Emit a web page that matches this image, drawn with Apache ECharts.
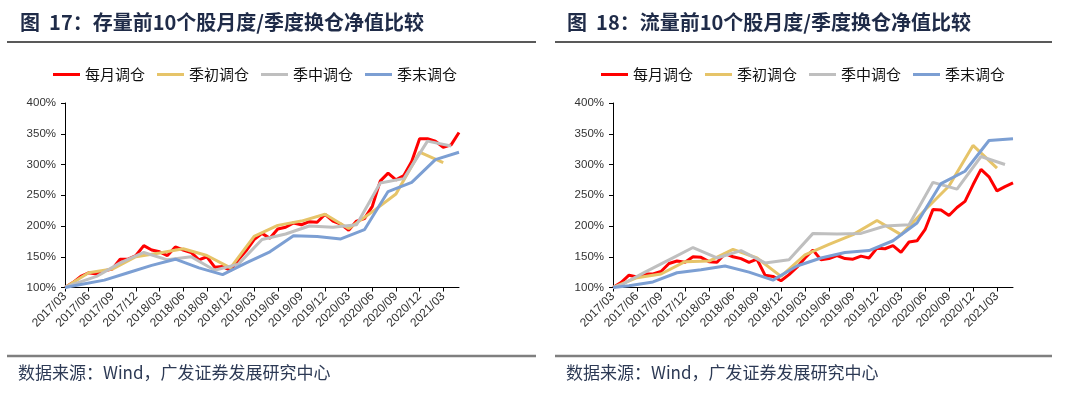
<!DOCTYPE html>
<html><head><meta charset="utf-8">
<script src="https://cdn.jsdelivr.net/npm/echarts@6/dist/echarts.min.js"></script>
<style>html,body{margin:0;padding:0;background:#fff}#c{width:1080px;height:395px}</style>
</head><body><div id="c"></div>
<script>
const months = ['2017/03','2017/04','2017/05','2017/06','2017/07','2017/08','2017/09','2017/10','2017/11','2017/12',
'2018/01','2018/02','2018/03','2018/04','2018/05','2018/06','2018/07','2018/08','2018/09','2018/10','2018/11','2018/12',
'2019/01','2019/02','2019/03','2019/04','2019/05','2019/06','2019/07','2019/08','2019/09','2019/10','2019/11','2019/12',
'2020/01','2020/02','2020/03','2020/04','2020/05','2020/06','2020/07','2020/08','2020/09','2020/10','2020/11','2020/12',
'2021/01','2021/02','2021/03','2021/04','2021/05'];
const names = ['每月调仓','季初调仓','季中调仓','季末调仓'];
const yTicks = [100,150,200,250,300,350,400];
const _ = null;
// 图17 存量
const stockMonthly = [100,108,118,124,122,127,130,146,146,152,168,161,158,152,166,161,157,145,150,133,134,128,145,160,178,188,180,195,198,205,202,207,206,219,208,203,193,208,212,232,273,286,275,282,305,342,342,338,328,332,352];
const stockQStart = [100,_,_,124,_,_,130,_,_,150,_,_,156,_,_,163,_,_,152,_,_,132,_,_,183,_,_,201,_,_,208,_,_,219,_,_,196,_,_,223,_,_,252,_,_,320,_,_,303,_,_];
const stockQMid = [100,105,_,_,118,_,_,140,_,_,157,_,_,145,_,_,150,_,_,128,_,_,138,_,_,178,_,_,187,_,_,200,_,_,198,_,_,202,_,_,270,_,_,277,_,_,338,_,_,330,_];
const stockQEnd = [100,_,105,_,_,112,_,_,124,_,_,136,_,_,146,_,_,132,_,_,121,_,_,140,_,_,158,_,_,184,_,_,183,_,_,179,_,_,194,_,_,256,_,_,271,_,_,308,_,_,320];
// 图18 流量
const flowMonthly = [100,108,120,117,122,122,126,139,143,141,150,149,142,141,155,150,147,141,146,120,118,111,121,133,148,161,145,147,152,147,146,151,148,164,163,168,157,174,176,194,227,226,217,230,240,267,292,280,257,264,270];
const flowQStart = [100,_,_,116,_,_,122,_,_,142,_,_,143,_,_,162,_,_,148,_,_,118,_,_,153,_,_,170,_,_,186,_,_,209,_,_,186,_,_,226,_,_,265,_,_,331,_,_,294,_,_];
const flowQMid = [100,104,_,_,125,_,_,145,_,_,165,_,_,148,_,_,160,_,_,140,_,_,145,_,_,188,_,_,187,_,_,188,_,_,200,_,_,202,_,_,271,_,_,260,_,_,313,_,_,300,_];
const flowQEnd = [100,_,103,_,_,109,_,_,124,_,_,129,_,_,135,_,_,125,_,_,112,_,_,135,_,_,148,_,_,157,_,_,160,_,_,176,_,_,205,_,_,269,_,_,289,_,_,339,_,_,342];

const colors = ['#FF0000','#E6C469','#BFBFBF','#7C9FD3'];
const chart = echarts.init(document.getElementById('c'), null, {renderer:'canvas'});
function xAx(gi){return {type:'category',gridIndex:gi,data:months,boundaryGap:false,
  axisLine:{lineStyle:{color:'#000',width:1}},
  axisTick:{interval:2,length:4,lineStyle:{color:'#000'}},
  axisLabel:{interval:2,rotate:45,fontSize:12,fontFamily:'Liberation Sans',color:'#333',margin:7},
  splitLine:{show:false}};}
function yAx(gi){return {type:'value',gridIndex:gi,min:yTicks[0],max:yTicks[yTicks.length-1],interval:50,
  axisLine:{show:true,lineStyle:{color:'#000',width:1}},
  axisTick:{show:true,length:4,lineStyle:{color:'#000'}},
  axisLabel:{formatter:'{value}%',fontSize:11.5,fontFamily:'Liberation Sans',color:'#333',margin:9},
  splitLine:{show:false}};}
function ser(name,data,gi,ci){return {name:name,type:'line',xAxisIndex:gi,yAxisIndex:gi,data:data,
  connectNulls:true,symbol:'none',lineStyle:{width:3,color:colors[ci]},itemStyle:{color:colors[ci]},animation:false};}
const legendCommon = {data:names,icon:'rect',itemWidth:27,itemHeight:3,itemGap:12,top:67,padding:0,
  textStyle:{fontSize:15,color:'#111',fontFamily:'Noto Sans CJK SC'}};
const titleFont = 'bold 20px "Noto Sans CJK SC"';
chart.setOption({
  animation:false,
  color:colors,
  grid:[{left:65,top:103,width:394,height:184.5},{left:613,top:103,width:400,height:184.5}],
  xAxis:[xAx(0),xAx(1)],
  yAxis:[yAx(0),yAx(1)],
  legend:[Object.assign({left:53},legendCommon),Object.assign({left:601},legendCommon)],
  series:[
    ser(names[0],stockMonthly,0,0),ser(names[1],stockQStart,0,1),ser(names[2],stockQMid,0,2),ser(names[3],stockQEnd,0,3),
    ser(names[0],flowMonthly,1,0),ser(names[1],flowQStart,1,1),ser(names[2],flowQMid,1,2),ser(names[3],flowQEnd,1,3)
  ],
  graphic:[
    {type:'text',left:20,top:12,style:{text:'图  17：存量前10个股月度/季度换仓净值比较',font:titleFont,fill:'#1f2b48'}},
    {type:'text',left:567,top:12,style:{text:'图  18：流量前10个股月度/季度换仓净值比较',font:titleFont,fill:'#1f2b48'}},
    {type:'line',shape:{x1:7,y1:42,x2:536,y2:42},style:{stroke:'#595959',lineWidth:2}},
    {type:'line',shape:{x1:555,y1:42,x2:1052,y2:42},style:{stroke:'#595959',lineWidth:2}},
    {type:'line',shape:{x1:7,y1:356,x2:536,y2:356},style:{stroke:'#7f7f7f',lineWidth:2.5}},
    {type:'line',shape:{x1:555,y1:356,x2:1052,y2:356},style:{stroke:'#7f7f7f',lineWidth:2.5}},
    {type:'text',left:18,top:364,style:{text:'数据来源：Wind，广发证券发展研究中心',font:'17px "Noto Sans CJK SC"',fill:'#2d3a55'}},
    {type:'text',left:566,top:364,style:{text:'数据来源：Wind，广发证券发展研究中心',font:'17px "Noto Sans CJK SC"',fill:'#2d3a55'}}
  ]
});
</script></body></html>
